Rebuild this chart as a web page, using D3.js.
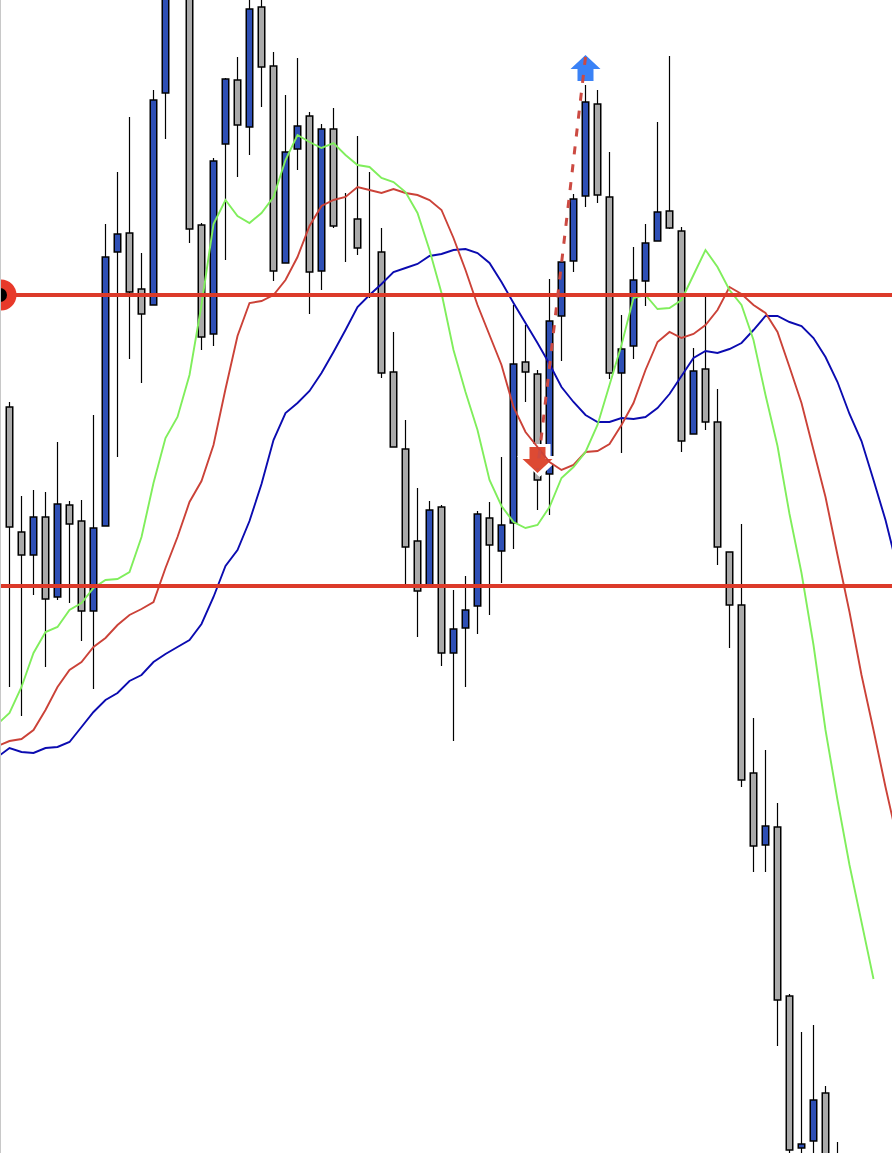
<!DOCTYPE html>
<html>
<head>
<meta charset="utf-8">
<style>
    html, body { margin: 0; padding: 0; background: #fff; }
    svg { display: block; }
</style>
<script src="https://cdn.jsdelivr.net/npm/d3@7"></script>
</head>
<body>
<script>
// SVG size
var w = 892;
var h = 1153;

// candles, one entry per bar (bars 13-15 and 65-69 run past the edge of the picture)
var opens = [746, 621, 598, 636, 556, 648, 632, 542, 627, 901, 920, 864, 848, 1060, 1175, 1250, 928, 819, 1009, 1073,
    1026, 1146, 1087, 890, 1004, 1037, 882, 1024, 933, 934, 898, 901, 781, 704, 612, 567, 646, 500, 525, 547,
    635, 602, 630, 791, 779, 679, 837, 892, 957, 1049, 956, 780, 807, 872, 912, 942, 922, 719, 784, 731,
    601, 548, 380, 308, 326, 157, 5, 12, 60, -20];
var highs = [751, 657, 663, 661, 711, 652, 653, 738, 929, 981, 1036, 900, 1063, 1178, 1250, 1255, 930, 995, 1075, 1096,
    1158, 1158, 1101, 1058, 1095, 1041, 1029, 1045, 960, 1017, 981, 925, 821, 733, 665, 652, 648, 563, 577, 642,
    651, 696, 848, 828, 783, 874, 891, 959, 1068, 1063, 1001, 838, 906, 929, 1031, 1097, 926, 805, 856, 764,
    601, 629, 435, 403, 350, 159, 121, 128, 67, 11];
var lows = [466, 437, 558, 486, 553, 550, 512, 464, 627, 696, 794, 770, 848, 1014, 1170, 910, 803, 807, 893, 976,
    998, 1046, 872, 890, 983, 839, 863, 925, 891, 898, 855, 775, 706, 569, 516, 567, 487, 412, 466, 519,
    538, 570, 604, 751, 643, 638, 792, 881, 946, 950, 774, 700, 794, 847, 912, 924, 701, 719, 723, 588,
    505, 366, 281, 281, 107, -12, -12, -12, -57, -60];
var closes = [626, 598, 636, 554, 649, 629, 542, 625, 896, 919, 861, 839, 1053, 1173, 1243, 924, 816, 992, 1074, 1028,
    1144, 1086, 882, 1001, 1027, 881, 1024, 927, 933, 905, 898, 780, 706, 606, 562, 643, 500, 524, 543, 639,
    608, 628, 789, 781, 673, 832, 891, 954, 1051, 958, 780, 804, 873, 910, 941, 925, 712, 782, 731, 606,
    548, 373, 307, 327, 153, 3, 9, 53, -47, -40];

// moving averages, these start one bar before the first candle
var maStart = -1;
var maFast = [429, 440, 466, 500, 521, 526, 543, 550, 565, 573, 574, 581, 616, 670, 715, 736, 778, 848, 929, 953,
    937, 930, 940, 956, 993, 1018, 1011, 1005, 1010, 998, 988, 986, 975, 971, 961, 940, 903, 860, 803, 761,
    723, 673, 647, 631, 625, 628, 646, 675, 686, 701, 728, 768, 808, 855, 858, 844, 845, 853, 878, 903,
    886, 863, 848, 813, 758, 707, 639, 580, 508, 423, 353, 288, 231, 174];
var maMiddle = [407, 412, 414, 423, 443, 466, 483, 491, 506, 515, 528, 538, 544, 551, 585, 616, 651, 672, 708, 764,
    817, 850, 852, 858, 873, 896, 927, 947, 953, 956, 966, 963, 960, 964, 960, 958, 953, 943, 915, 883,
    848, 818, 788, 746, 721, 706, 691, 683, 688, 701, 702, 709, 728, 750, 783, 811, 821, 815, 819, 828,
    843, 866, 859, 848, 840, 821, 786, 750, 703, 656, 598, 541, 478, 423, 366, 313];
var maSlow = [396, 405, 401, 400, 405, 406, 411, 426, 441, 453, 460, 472, 478, 491, 499, 506, 513, 529, 556, 587,
    603, 632, 669, 713, 740, 750, 762, 780, 801, 823, 846, 858, 869, 881, 885, 889, 897, 899, 903, 904,
    900, 890, 871, 850, 830, 810, 789, 766, 751, 738, 731, 731, 735, 734, 736, 745, 759, 777, 795, 802,
    800, 804, 810, 823, 837, 837, 831, 827, 815, 796, 771, 739, 712, 673, 633, 585];

// horizontal levels
var levels = [858, 567];

// the two arrows and the dashed trade line between them
var arrowUp = { bar: 48, price: 1098 };
var arrowDown = { bar: 44, price: 680 };
var tradeBars = [48, 44];
var tradePrices = [1096, 683];

// colours
var upColor = "#2e4fb5";
var downColor = "#aaaaaa";
var levelColor = "#dc3a2a";

// scales
var x = d3.scaleLinear().domain([0, 74]).range([9.5, 897.5]);
var y = d3.scaleLinear().domain([0, h]).range([h, 0]);

var svg = d3.select("body").append("svg")
    .attr("width", w)
    .attr("height", h)
    .style("background", "#fff");

// ———— candles ————
var candles = svg.append("g").attr("class", "candles");
var bodyWidth = 6.5;

candles.selectAll("line")
    .data(opens)
    .enter()
    .append("line")
    .attr("x1", function (d, i) { return x(i); })
    .attr("x2", function (d, i) { return x(i); })
    .attr("y1", function (d, i) { return y(highs[i]); })
    .attr("y2", function (d, i) { return y(lows[i]); })
    .attr("stroke", "#000")
    .attr("stroke-width", 1.2);

candles.selectAll("rect")
    .data(opens)
    .enter()
    .append("rect")
    .attr("x", function (d, i) { return x(i) - bodyWidth / 2; })
    .attr("width", bodyWidth)
    .attr("y", function (d, i) { return y(Math.max(d, closes[i])); })
    .attr("height", function (d, i) { return Math.abs(y(d) - y(closes[i])); })
    .attr("fill", function (d, i) { return closes[i] >= d ? upColor : downColor; })
    .attr("stroke", "#000")
    .attr("stroke-width", 1.5);

// ———— arrows ————
// outline of an arrow pointing up, relative to its tip
var arrowShape = [[0, 0], [15, 14], [8, 14], [8, 26], [-8, 26], [-8, 14], [-15, 14]];

function drawArrow(a, dir, fill, halo) {
    var pts = arrowShape.map(function (p) {
        return [x(a.bar) + p[0], y(a.price) + dir * p[1]];
    });
    var path = d3.line().curve(d3.curveLinearClosed)(pts);
    if (halo) {
        // the white edge sits a little to the right of the arrow
        svg.append("path")
            .attr("d", path)
            .attr("transform", "translate(2,0)")
            .attr("fill", "#fff")
            .attr("stroke", "#fff")
            .attr("stroke-width", 6)
            .attr("stroke-linejoin", "miter");
    }
    svg.append("path").attr("d", path).attr("fill", fill);
}

drawArrow(arrowUp, 1, "#3a82f6", false);
drawArrow(arrowDown, -1, "#dd4a33", true);

// ———— moving averages ————
var maLine = d3.line()
    .x(function (d, i) { return x(i + maStart); })
    .y(function (d) { return y(d); });

[[maSlow, "#0b0bb0"], [maMiddle, "#cb4238"], [maFast, "#80ee5c"]].forEach(function (s) {
    svg.append("path")
        .attr("d", maLine(s[0]))
        .attr("fill", "none")
        .attr("stroke", s[1])
        .attr("stroke-width", 1.9);
});

// ———— horizontal levels ————
svg.selectAll(".level")
    .data(levels)
    .enter()
    .append("line")
    .attr("class", "level")
    .attr("x1", 0)
    .attr("x2", w)
    .attr("y1", function (d) { return y(d); })
    .attr("y2", function (d) { return y(d); })
    .attr("stroke", levelColor)
    .attr("stroke-width", 4);

// ———— dashed trade line ————
svg.append("path")
    .attr("d", d3.line()
        .x(function (d) { return x(d); })
        .y(function (d, i) { return y(tradePrices[i]); })(tradeBars))
    .attr("fill", "none")
    .attr("stroke", "#cc4a42")
    .attr("stroke-width", 3)
    .attr("stroke-dasharray", "8,10");

// ———— handle of the level on the left edge ————
svg.append("circle")
    .attr("cx", 1)
    .attr("cy", y(levels[0]))
    .attr("r", 15.5)
    .attr("fill", "#e8392a");
svg.append("circle")
    .attr("cx", 0)
    .attr("cy", y(levels[0]))
    .attr("r", 7)
    .attr("fill", "#000");

// grey window edge
svg.append("line")
    .attr("x1", 0.5)
    .attr("x2", 0.5)
    .attr("y1", 0)
    .attr("y2", h)
    .attr("stroke", "#c8c8c8")
    .attr("stroke-width", 1);
</script>
</body>
</html>
